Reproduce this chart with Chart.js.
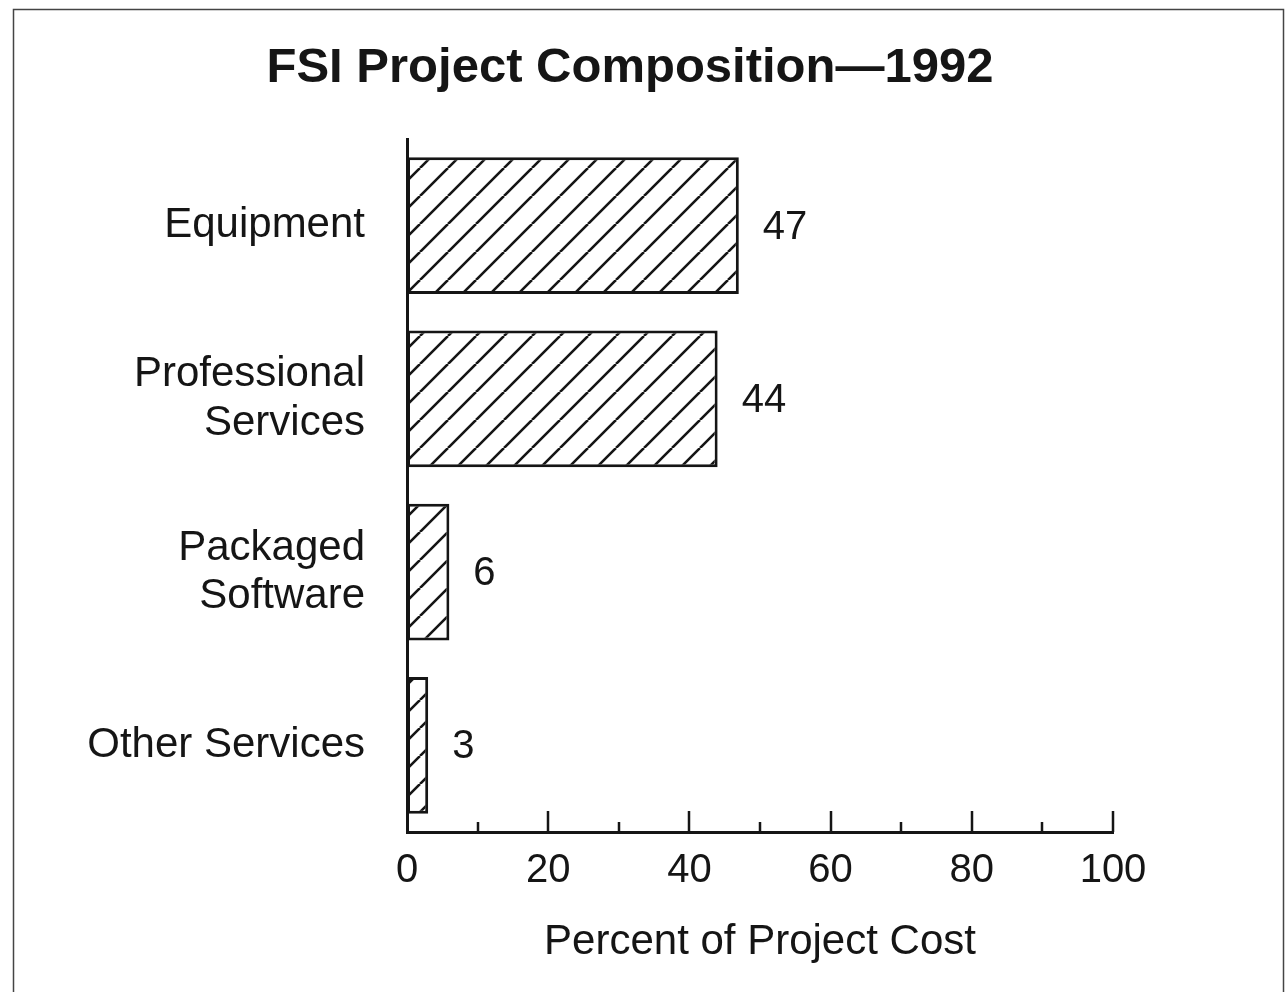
<!DOCTYPE html>
<html>
<head>
<meta charset="utf-8">
<script src="https://cdn.jsdelivr.net/npm/chart.js@4.4.0/dist/chart.umd.min.js"></script>
<style>
  html, body { margin: 0; padding: 0; background: #fff; }
  #wrap { width: 1288px; height: 992px; position: relative; }
</style>
</head>
<body>
<div id="wrap"><canvas id="chart" width="1288" height="992"></canvas></div>
<script>
// chart data
const chartTitle = 'FSI Project Composition\u20141992';
const categories = ['Equipment', ['Professional', 'Services'], ['Packaged', 'Software'], 'Other Services'];
const percentValues = [47, 44, 6, 3];
const tickLabels = [0, 20, 40, 60, 80, 100];

const FONT = "'Liberation Sans', Arial, Helvetica, sans-serif";
const INK = '#151515';

// diagonal hatch, lines going up to the right
function makeHatch() {
    const s = 28;
    const c = document.createElement('canvas');
    c.width = s;
    c.height = s;
    const g = c.getContext('2d');
    g.fillStyle = '#fff';
    g.fillRect(0, 0, s, s);
    g.strokeStyle = INK;
    g.lineWidth = 2.6;
    g.beginPath();
    g.moveTo(0, s); g.lineTo(s, 0);
    g.moveTo(-s, s); g.lineTo(0, 0);
    g.moveTo(s, s); g.lineTo(s * 2, 0);
    g.stroke();
    return g.createPattern(c, 'repeat');
}

// frame round the whole figure, plus the title
const framePlugin = {
    id: 'frame',
    beforeDraw(chart) {
        const ctx = chart.ctx;
        ctx.save();
        ctx.fillStyle = '#fff';
        ctx.fillRect(0, 0, chart.width, chart.height);
        ctx.strokeStyle = '#444';
        ctx.lineWidth = 1.5;
        ctx.strokeRect(13.5, 9.5, 1270, 1010);
        ctx.fillStyle = INK;
        ctx.font = 'bold 49px ' + FONT;
        ctx.textAlign = 'center';
        ctx.textBaseline = 'alphabetic';
        ctx.fillText(chartTitle, 630, 82);
        ctx.restore();
    }
};

// inward tick marks on the x axis: long every 20, short every 10
const ticksPlugin = {
    id: 'innerTicks',
    afterDatasetsDraw(chart) {
        const x = chart.scales.x;
        const y0 = chart.chartArea.bottom;
        const ctx = chart.ctx;
        ctx.save();
        ctx.strokeStyle = INK;
        ctx.lineWidth = 2.5;
        ctx.beginPath();
        for (let v = 10; v <= 100; v += 10) {
            const px = Math.round(x.getPixelForValue(v));
            const len = v % 20 === 0 ? 21 : 10;
            ctx.moveTo(px, y0);
            ctx.lineTo(px, y0 - len);
        }
        ctx.stroke();
        ctx.restore();
    }
};

// value labels to the right of each bar
const valuePlugin = {
    id: 'values',
    afterDatasetsDraw(chart) {
        const ctx = chart.ctx;
        const meta = chart.getDatasetMeta(0);
        ctx.save();
        ctx.fillStyle = INK;
        ctx.font = '40px ' + FONT;
        ctx.textAlign = 'left';
        ctx.textBaseline = 'middle';
        meta.data.forEach((bar, i) => {
            ctx.fillText(String(percentValues[i]), bar.x + 24, bar.y + 2);
        });
        ctx.restore();
    }
};

const ctx = document.getElementById('chart').getContext('2d');
new Chart(ctx, {
    type: 'bar',
    data: {
        labels: categories,
        datasets: [{
            data: percentValues,
            backgroundColor: makeHatch(),
            borderColor: INK,
            borderWidth: 3,
            borderSkipped: false,
            barPercentage: 0.79,
            categoryPercentage: 1.0
        }]
    },
    options: {
        indexAxis: 'y',
        responsive: false,
        animation: false,
        devicePixelRatio: 1,
        layout: { padding: { left: 0, right: 175, top: 139, bottom: 0 } },
        plugins: {
            legend: { display: false },
            tooltip: { enabled: false },
            title: { display: false }
        },
        scales: {
            x: {
                type: 'linear',
                min: 0,
                max: 100,
                grid: { display: false, drawTicks: false },
                border: { display: true, color: INK, width: 3 },
                ticks: {
                    stepSize: 20,
                    color: INK,
                    padding: 15,
                    font: { family: FONT, size: 40 },
                    callback: v => tickLabels.includes(v) ? String(v) : ''
                },
                title: {
                    display: true,
                    text: 'Percent of Project Cost',
                    color: INK,
                    font: { family: FONT, size: 42 },
                    padding: { top: 0, bottom: 24 }
                },
                afterFit: s => { s.height = 160; }
            },
            y: {
                grid: { display: false, drawTicks: false },
                border: { display: true, color: INK, width: 3 },
                ticks: {
                    color: INK,
                    padding: 42,
                    font: { family: FONT, size: 42, lineHeight: 1.15 }
                },
                afterFit: s => { s.width = 407; }
            }
        }
    },
    plugins: [framePlugin, ticksPlugin, valuePlugin]
});
</script>
</body>
</html>
